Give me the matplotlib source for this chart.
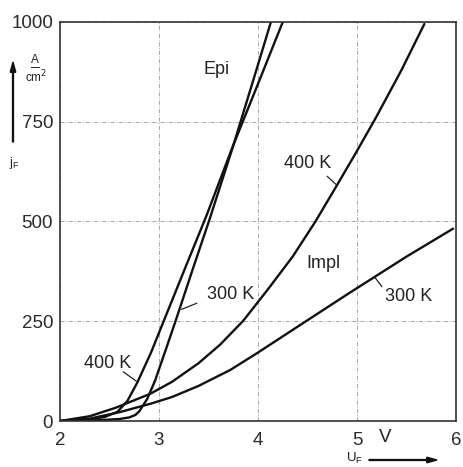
import matplotlib
matplotlib.use("Agg")
import matplotlib.pyplot as plt

plt.rcParams['font.family'] = ['Liberation Sans', 'DejaVu Sans']

# Epi, 300 K
epi300_u = [2.0, 2.4, 2.6, 2.7, 2.76, 2.80, 2.88, 2.96, 3.07, 3.18, 3.34, 3.51, 3.75, 3.99, 4.13]
epi300_j = [0, 2, 5, 9, 15, 24, 55, 101, 180, 260, 380, 505, 690, 885, 1000]

# Epi, 400 K
epi400_u = [2.0, 2.3, 2.45, 2.58, 2.68, 2.78, 2.92, 3.05, 3.27, 3.48, 3.74, 4.0, 4.25]
epi400_j = [0, 4, 10, 23, 50, 96, 172, 252, 387, 515, 685, 845, 1000]

# Impl, 400 K
impl400_u = [2.0, 2.3, 2.56, 2.91, 3.13, 3.4, 3.62, 3.85, 4.1, 4.35, 4.58, 4.8, 5.0, 5.19, 5.45, 5.68]
impl400_j = [0, 12, 33, 68, 98, 145, 192, 251, 330, 412, 500, 592, 677, 760, 880, 995]

# Impl, 300 K
impl300_u = [2.0, 2.3, 2.6, 2.91, 3.13, 3.4, 3.72, 3.99, 4.49, 4.93, 5.5, 5.97]
impl300_j = [0, 6, 22, 43, 60, 88, 128, 170, 251, 322, 412, 482]

x_ticks = [2, 3, 4, 5, 6]
y_ticks = [0, 250, 500, 750, 1000]

fig = plt.figure(figsize=(4.63, 4.67), dpi=100)
ax = fig.add_axes([0.1296, 0.0985, 0.8554, 0.8545])

for u, j in [(epi300_u, epi300_j), (epi400_u, epi400_j),
             (impl400_u, impl400_j), (impl300_u, impl300_j)]:
    ax.plot(u, j, color='#111111', lw=1.7, solid_capstyle='round', solid_joinstyle='round')

ax.set_xlim(2, 6)
ax.set_ylim(0, 1000)
ax.set_xticks(x_ticks)
ax.set_yticks(y_ticks)
ax.tick_params(length=0, labelsize=13.5, colors='#2a2a2a')
ax.tick_params(axis='x', pad=8)
ax.tick_params(axis='y', pad=5)
ax.grid(True, color='#9a9a9a', lw=0.6, linestyle=(0, (5, 2, 1, 2)))
for s in ax.spines.values():
    s.set_color('#333333')
    s.set_linewidth(1.2)

# curve labels
txt = dict(fontsize=13, color='#222222', ha='center', va='center')
ax.text(3.58, 880, 'Epi', **txt)
ax.text(4.50, 646, '400 K', **txt)
ax.text(4.66, 395, 'Impl', **txt)
ax.text(5.52, 312, '300 K', **txt)
ax.text(3.72, 317, '300 K', **txt)
ax.text(2.48, 144, '400 K', **txt)

lk = dict(color='#222222', lw=0.9)
ax.plot([4.70, 4.80], [613, 590], **lk)
ax.plot([5.18, 5.25], [360, 337], **lk)
ax.plot([3.38, 3.23], [295, 280], **lk)
ax.plot([2.64, 2.77], [123, 100], **lk)

# y axis label with arrow
fig.patches.append(matplotlib.patches.FancyArrow(
    13 / 463, 1 - 142 / 467, 0, 80 / 467, width=0.002, head_width=0.012,
    head_length=0.022, length_includes_head=True, color='#111111',
    transform=fig.transFigure))
fig.text(35 / 463, 1 - 60 / 467, 'A', fontsize=8.5, ha='center', va='center', color='#222222')
fig.add_artist(matplotlib.lines.Line2D([31 / 463, 39 / 463], [1 - 67 / 467, 1 - 67 / 467],
                                        color='#222222', lw=0.7))
fig.text(36 / 463, 1 - 77 / 467, 'cm$^2$', fontsize=8.5, ha='center', va='center', color='#222222')
fig.text(14 / 463, 1 - 163 / 467, 'j$_\\mathregular{F}$', fontsize=9, ha='center', va='center', color='#222222')

# x axis label with arrow
fig.text(385 / 463, 1 - 437 / 467, 'V', fontsize=13.5, ha='center', va='center', color='#222222')
fig.text(354 / 463, 1 - 458 / 467, 'U$_\\mathregular{F}$', fontsize=9.5, ha='center', va='center', color='#222222')
fig.patches.append(matplotlib.patches.FancyArrow(
    369 / 463, 1 - 460 / 467, 68 / 463, 0, width=0.002, head_width=0.012,
    head_length=0.022, length_includes_head=True, color='#111111',
    transform=fig.transFigure))

fig.savefig('out.png', dpi=100)
